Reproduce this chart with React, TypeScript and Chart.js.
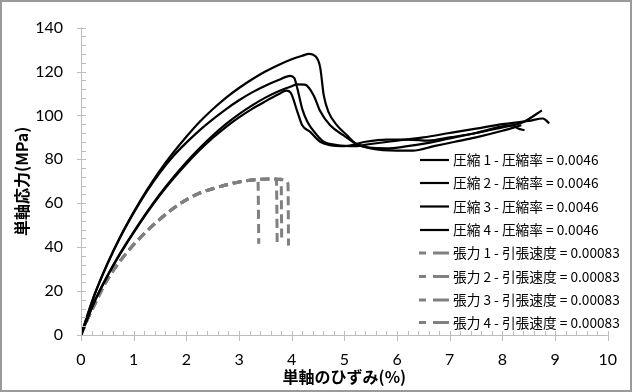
import React, { useEffect, useRef } from "react";
import { Chart, registerables } from "chart.js";

Chart.register(...registerables);

// ---- data ----
const xTicks = [0, 1, 2, 3, 4, 5, 6, 7, 8, 9, 10];
const yTicks = [0, 20, 40, 60, 80, 100, 120, 140];

const comp1X = [0, 0.25, 0.5, 0.75, 1.0, 1.25, 1.5, 1.75, 2.0, 2.25, 2.5, 2.75, 3.0, 3.25, 3.5, 3.75, 4.0, 4.2, 4.33, 4.45, 4.54, 4.61, 4.7, 4.86, 5.05, 5.2, 5.48, 5.8, 6.2, 6.6, 7.0, 7.5, 8.0, 8.4, 8.75];
const comp1Y = [0, 18, 32.5, 45, 56, 66, 75, 83, 90.3, 97, 102.8, 108, 112.5, 116.5, 120, 123, 125.6, 127.2, 128, 127, 122, 109, 101.5, 95.5, 91, 87.5, 85.3, 85, 86, 87.5, 89.5, 92, 94.5, 97, 102.3];

const comp2X = [0, 0.25, 0.5, 0.75, 1.0, 1.25, 1.5, 1.75, 2.0, 2.25, 2.5, 2.75, 3.0, 3.25, 3.5, 3.75, 3.97, 4.05, 4.11, 4.2, 4.3, 4.48, 4.61, 4.86, 5.2, 5.5, 6.0, 6.5, 7.0, 7.5, 8.0, 8.5, 8.77, 8.89];
const comp2Y = [0, 17.8, 32.2, 44.7, 55.6, 65.4, 74, 81.4, 87.6, 93.2, 98.2, 102.8, 106.9, 110.5, 113.5, 116.1, 118, 117, 112, 103, 97, 91, 88, 86.5, 86, 87, 88.5, 90, 92, 94, 96, 97.5, 98.6, 96.4];

const comp3X = [0, 0.25, 0.5, 0.75, 1.0, 1.25, 1.5, 1.75, 2.0, 2.25, 2.5, 2.75, 3.0, 3.25, 3.5, 3.75, 4.0, 4.1, 4.25, 4.42, 4.54, 4.73, 4.98, 5.23, 5.5, 6.0, 6.3, 6.7, 7.1, 7.5, 8.0, 8.36];
const comp3Y = [0, 15, 27, 37.5, 47, 56, 64.3, 71.8, 78.7, 85, 90.8, 96, 100.6, 104.6, 108.1, 111, 113.3, 114.1, 114, 109, 102, 95.5, 91, 87, 85, 84, 84, 86, 88, 90, 93, 95.5];

const comp4X = [0, 0.25, 0.5, 0.75, 1.0, 1.25, 1.5, 1.75, 2.0, 2.25, 2.5, 2.75, 3.0, 3.25, 3.5, 3.75, 3.9, 3.98, 4.11, 4.2, 4.35, 4.54, 4.73, 5.0, 5.4, 5.8, 6.2, 6.6, 7.0, 7.5, 8.0, 8.2, 8.3, 8.42];
const comp4Y = [0, 14.8, 26.7, 37.1, 46.6, 55.5, 63.7, 71.1, 77.9, 84.1, 89.7, 94.7, 99.1, 103, 106.4, 109.6, 111.3, 110.4, 101.5, 95.5, 92.5, 88, 86.5, 86, 88, 89, 89, 88.5, 90, 92, 95, 95.5, 94, 93.3];

const ten1X = [0, 0.11, 0.26, 0.48, 0.73, 1.04, 1.42, 1.86, 2.23, 2.61, 2.98, 3.36, 3.375];
const ten1Y = [0, 6.5, 14, 24.4, 33.3, 42.2, 51.1, 59.5, 64.4, 67.4, 69.6, 70.8, 41.5];
const ten2X = [0, 0.11, 0.26, 0.48, 0.73, 1.04, 1.42, 1.86, 2.23, 2.61, 2.98, 3.36, 3.55, 3.71, 3.725];
const ten2Y = [0, 6.5, 14, 24.4, 33.3, 42.2, 51.1, 59.5, 64.4, 67.4, 69.6, 70.8, 71.1, 71.1, 40.7];
const ten3X = [0, 0.11, 0.26, 0.48, 0.73, 1.04, 1.42, 1.86, 2.23, 2.61, 2.98, 3.36, 3.55, 3.8, 3.81];
const ten3Y = [0, 6.5, 14, 24.4, 33.3, 42.2, 51.1, 59.5, 64.4, 67.4, 69.6, 70.8, 71.1, 71.0, 43];
const ten4X = [0, 0.11, 0.26, 0.48, 0.73, 1.04, 1.42, 1.86, 2.23, 2.61, 2.98, 3.36, 3.55, 3.8, 3.93, 3.94];
const ten4Y = [0, 6.5, 14, 24.4, 33.3, 42.2, 51.1, 59.5, 64.4, 67.4, 69.6, 70.8, 71.1, 70.8, 68.9, 40.7];

const seriesLabels = [
  "圧縮 1 - 圧縮率 = 0.0046",
  "圧縮 2 - 圧縮率 = 0.0046",
  "圧縮 3 - 圧縮率 = 0.0046",
  "圧縮 4 - 圧縮率 = 0.0046",
  "張力 1 - 引張速度 = 0.00083",
  "張力 2 - 引張速度 = 0.00083",
  "張力 3 - 引張速度 = 0.00083",
  "張力 4 - 引張速度 = 0.00083",
];
const xTitle = "単軸のひずみ(%)";
const yTitle = "単軸応力(MPa)";

const zip = (xs: number[], ys: number[]) => xs.map((x, i) => ({ x, y: ys[i] }));

const AXIS_COLOR = "#bdbdbd";
const BLACK = "#000000";
const GRAY = "#808080";
const DASH = [9, 5];

const decorPlugin = {
  id: "decor",
  beforeDraw(chart: any) {
    const ctx = chart.ctx;
    ctx.save();
    ctx.fillStyle = "#ffffff";
    ctx.fillRect(0, 0, chart.width, chart.height);
    ctx.strokeStyle = "#9a9a9a";
    ctx.lineWidth = 2;
    ctx.strokeRect(1, 1, chart.width - 2, chart.height - 2);
    ctx.restore();
  },
  afterDatasetsDraw(chart: any) {
    const ctx = chart.ctx;
    const xs = chart.scales.x;
    const ys = chart.scales.y;
    const a = chart.chartArea;
    ctx.save();
    ctx.strokeStyle = AXIS_COLOR;
    ctx.lineWidth = 1;
    ctx.beginPath();
    ctx.moveTo(a.left + 0.5, a.top);
    ctx.lineTo(a.left + 0.5, a.bottom + 0.5);
    ctx.lineTo(a.right, a.bottom + 0.5);
    for (let v = 0; v <= 10.0001; v += 0.2) {
      const px = Math.round(xs.getPixelForValue(v)) + 0.5;
      const major = Math.abs(v - Math.round(v)) < 1e-6;
      ctx.moveTo(px, a.bottom - 4);
      ctx.lineTo(px, a.bottom + (major ? 6 : 0.5));
    }
    for (let v = 0; v <= 140.0001; v += 4) {
      const py = Math.round(ys.getPixelForValue(v)) + 0.5;
      const major = v % 20 === 0;
      ctx.moveTo(a.left + 5, py);
      ctx.lineTo(a.left - (major ? 4 : 0), py);
    }
    ctx.stroke();

    ctx.fillStyle = "#000";
    ctx.font = "bold 16px 'Noto Sans CJK JP'";
    ctx.textAlign = "center";
    ctx.textBaseline = "middle";
    ctx.fillText(xTitle, (a.left + a.right) / 2, 377);
    ctx.save();
    ctx.translate(22, (a.top + a.bottom) / 2);
    ctx.rotate(-Math.PI / 2);
    ctx.fillText(yTitle, 0, 0);
    ctx.restore();

    ctx.font = "13.7px 'Noto Sans CJK JP'";
    ctx.textAlign = "left";
    ctx.textBaseline = "middle";
    const ly = [160, 183, 206.5, 230, 253, 276.5, 300, 322.5];
    chart.data.datasets.forEach((ds: any, i: number) => {
      const y = ly[i];
      ctx.save();
      ctx.strokeStyle = ds.borderColor;
      ctx.lineWidth = ds.borderWidth;
      ctx.beginPath();
      if (ds.borderDash) {
        ctx.moveTo(419, y);
        ctx.lineTo(426, y);
        ctx.moveTo(433, y);
        ctx.lineTo(449, y);
      } else {
        ctx.moveTo(420, y);
        ctx.lineTo(449, y);
      }
      ctx.stroke();
      ctx.restore();
      ctx.fillStyle = "#000";
      ctx.fillText(ds.label, 453, y);
    });
    ctx.restore();
  },
};

export default function App() {
  const ref = useRef<HTMLCanvasElement | null>(null);
  useEffect(() => {
    if (!ref.current) return;
    const comp = [zip(comp1X, comp1Y), zip(comp2X, comp2Y), zip(comp3X, comp3Y), zip(comp4X, comp4Y)];
    const ten = [zip(ten1X, ten1Y), zip(ten2X, ten2Y), zip(ten3X, ten3Y), zip(ten4X, ten4Y)];
    const datasets: any[] = [];
    comp.forEach((d, i) =>
      datasets.push({
        label: seriesLabels[i],
        data: d,
        borderColor: BLACK,
        borderWidth: 2.2,
        showLine: true,
        pointRadius: 0,
        cubicInterpolationMode: "monotone",
        fill: false,
      })
    );
    ten.forEach((d, i) =>
      datasets.push({
        label: seriesLabels[4 + i],
        data: d,
        borderColor: GRAY,
        borderWidth: 3,
        borderDash: DASH,
        showLine: true,
        pointRadius: 0,
        cubicInterpolationMode: "monotone",
        fill: false,
      })
    );
    const chart = new Chart(ref.current, {
      type: "scatter",
      data: { datasets },
      options: {
        animation: false,
        responsive: false,
        layout: { padding: { top: 20, right: 18, left: 0, bottom: 0 } },
        plugins: { legend: { display: false }, tooltip: { enabled: false } },
        scales: {
          x: {
            type: "linear",
            min: 0,
            max: 10,
            afterBuildTicks: (s: any) => {
              s.ticks = xTicks.map((v) => ({ value: v }));
            },
            afterFit: (s: any) => {
              s.height = 57;
            },
            grid: { display: false, drawTicks: false },
            border: { display: false },
            ticks: { color: "#000", font: { family: "Lato", size: 16 }, padding: 15, maxRotation: 0 },
          },
          y: {
            type: "linear",
            min: 0,
            max: 140,
            afterBuildTicks: (s: any) => {
              s.ticks = yTicks.map((v) => ({ value: v }));
            },
            afterFit: (s: any) => {
              s.width = 81;
            },
            grid: { display: false, drawTicks: false },
            border: { display: false },
            ticks: { color: "#000", font: { family: "Lato", size: 16 }, padding: 18 },
          },
        },
      },
      plugins: [decorPlugin],
    });
    return () => chart.destroy();
  }, []);
  return (
    <div style={{ position: "absolute", left: 0, top: 0, width: 632, height: 392 }}>
      <canvas ref={ref} width={632} height={392} style={{ display: "block" }} />
    </div>
  );
}
